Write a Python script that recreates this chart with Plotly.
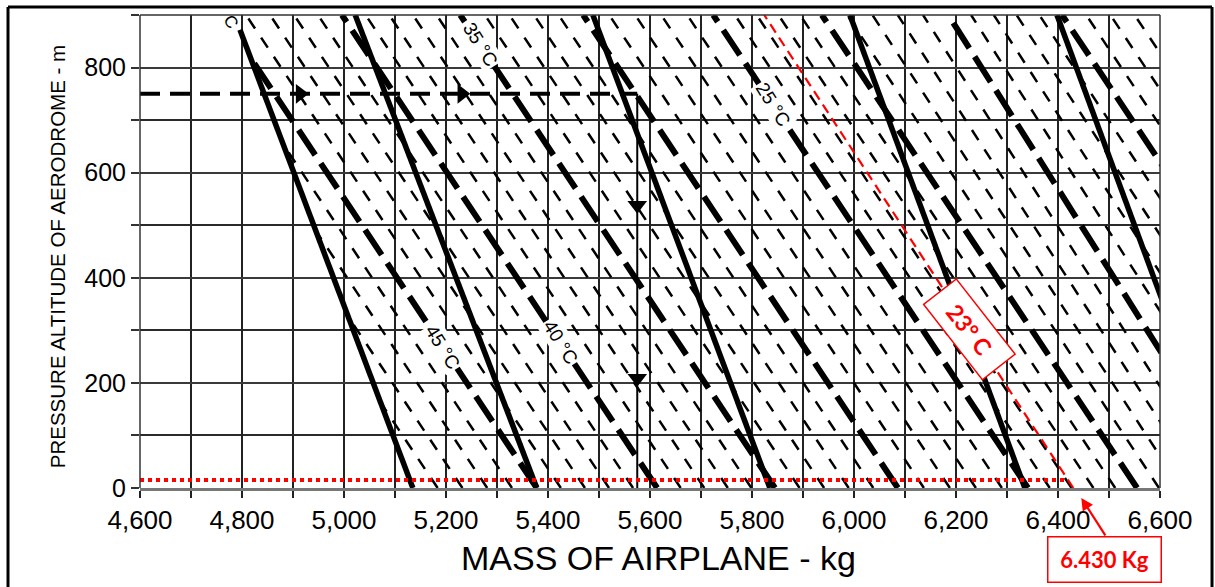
import numpy as np
import plotly.graph_objects as go

# ---------------- chart data ----------------
mass_tick_vals = [4600, 4800, 5000, 5200, 5400, 5600, 5800, 6000, 6200, 6400, 6600]
mass_tick_text = ["4,600", "4,800", "5,000", "5,200", "5,400", "5,600",
                  "5,800", "6,000", "6,200", "6,400", "6,600"]
alt_tick_vals = [0, 200, 400, 600, 800]
alt_tick_text = ["0", "200", "400", "600", "800"]

# outside-air-temperature lines (°C): mass at 0 m and at 900 m pressure altitude
temp_c = [50, 45, 40, 35, 30, 25, 20, 15, 10, 5]
temp_mass_0m = [5135, 5378, 5614, 5845, 6086, 6341, 6555, 6770, 7026, 7265]
temp_mass_900m = [4516, 4761, 4996, 5228, 5469, 5724, 5937, 6185, 6408, 6645]

# labelled temperature lines and the altitude where each label sits
label_temps = [45, 40, 35, 25]
label_alts = [268, 276, 843, 729]

# steep solid guide lines: upper end (mass, altitude) and sea-level mass
guide_top_mass = [4796, 5022, 5488, 5992, 6398]
guide_top_alt = [872, 900, 900, 900, 900]
guide_base_mass = [5135, 5378, 5835, 6335, 6740]

# worked example: aerodrome altitude line and the mass read-off line
example_alt = 750
example_mass = 5575
example_right_arrows = [4914, 5231]
example_down_arrows = [538, 209]

# result for 23 °C
result_temp = 23
result_mass = 6430
result_top_mass = 5824
result_alt = 15

ALT_TOP = 900
MASS_MIN, MASS_MAX = 4600, 6600

# ---------------- geometry helpers ----------------
bound_base = guide_base_mass[0]
bound_slope = (guide_top_mass[0] - guide_base_mass[0]) / guide_top_alt[0]


def clipped_segment(m0, m900):
    """Return the altitude span of a temperature line right of the first guide line."""
    slope = (m900 - m0) / ALT_TOP
    diff0 = m0 - bound_base
    if diff0 <= 0:
        return None
    rate = slope - bound_slope
    top = ALT_TOP if rate >= 0 else min(ALT_TOP, diff0 / -rate)
    return top


def add_line(xs, ys, m0, m900):
    top = clipped_segment(m0, m900)
    if top is None:
        return
    slope = (m900 - m0) / ALT_TOP
    xs += [m0, m0 + slope * top, None]
    ys += [0, top, None]


# 1 °C hatch lines between the 5 °C lines
hx, hy = [], []
for i in range(len(temp_c) - 1):
    a0, a9 = temp_mass_0m[i], temp_mass_900m[i]
    b0, b9 = temp_mass_0m[i + 1], temp_mass_900m[i + 1]
    for k in range(1, 5):
        f = k / 5
        add_line(hx, hy, a0 + (b0 - a0) * f, a9 + (b9 - a9) * f)

# 5 °C lines
tx, ty = [], []
for t, m0, m9 in zip(temp_c, temp_mass_0m, temp_mass_900m):
    add_line(tx, ty, m0, m9)

# solid guide lines
gx, gy = [], []
for mt, at, mb in zip(guide_top_mass, guide_top_alt, guide_base_mass):
    gx += [mb, mt, None]
    gy += [0, at, None]

fig = go.Figure()

fig.add_trace(go.Scatter(x=hx, y=hy, mode="lines", hoverinfo="skip",
                         line=dict(color="black", width=2.5, dash="12px,11px")))
fig.add_trace(go.Scatter(x=tx, y=ty, mode="lines", hoverinfo="skip",
                         line=dict(color="black", width=6, dash="30px,10px")))
fig.add_trace(go.Scatter(x=gx, y=gy, mode="lines", hoverinfo="skip",
                         line=dict(color="black", width=5.5)))

# worked example lines
fig.add_trace(go.Scatter(x=[MASS_MIN, example_mass], y=[example_alt, example_alt],
                         mode="lines", hoverinfo="skip",
                         line=dict(color="black", width=4, dash="20px,10px")))
fig.add_trace(go.Scatter(x=[example_mass, example_mass], y=[example_alt, 0],
                         mode="lines", hoverinfo="skip",
                         line=dict(color="black", width=2)))
fig.add_trace(go.Scatter(x=example_right_arrows, y=[example_alt] * len(example_right_arrows),
                         mode="markers", hoverinfo="skip",
                         marker=dict(symbol="triangle-right", size=17, color="black")))
fig.add_trace(go.Scatter(x=[example_mass] * len(example_down_arrows), y=example_down_arrows,
                         mode="markers", hoverinfo="skip",
                         marker=dict(symbol="triangle-down", size=17, color="black")))

# 23 °C line and the aerodrome level line
red_slope = (result_top_mass - result_mass) / ALT_TOP
fig.add_trace(go.Scatter(x=[result_mass, result_top_mass], y=[0, ALT_TOP],
                         mode="lines", hoverinfo="skip",
                         line=dict(color="#ff0000", width=2.2, dash="10px,6px")))
fig.add_trace(go.Scatter(x=[MASS_MIN, result_mass + red_slope * result_alt],
                         y=[result_alt, result_alt], mode="lines", hoverinfo="skip",
                         line=dict(color="#ff0000", width=4, dash="4px,4px")))

annotations = []
# temperature labels along their lines
for t, a in zip(label_temps, label_alts):
    i = temp_c.index(t)
    m = temp_mass_0m[i] + (temp_mass_900m[i] - temp_mass_0m[i]) * a / ALT_TOP
    annotations.append(dict(x=m, y=a, xref="x", yref="y", text=f"{t} °C",
                            showarrow=False, textangle=58, bgcolor="white", borderpad=1,
                            font=dict(family="Liberation Sans", size=19, color="black")))
# partial label at the top of the chart
annotations.append(dict(x=4778, y=888, xref="x", yref="y", text="C", showarrow=False,
                        textangle=60, font=dict(family="Liberation Sans", size=17, color="black")))

# 23 °C box on the red line
box_alt = 302
annotations.append(dict(x=result_mass + red_slope * box_alt, y=box_alt, xref="x", yref="y",
                        text=f"{result_temp}° C", showarrow=False, textangle=52,
                        bgcolor="white", bordercolor="#ff0000", borderwidth=1.5,
                        width=92, height=38, xanchor="center", yanchor="middle",
                        font=dict(family="Lato", size=23, color="#ff0000", weight="bold")))

# result mass box and arrow
annotations.append(dict(x=6492, y=-0.152, xref="x", yref="paper",
                        xanchor="center", yanchor="middle",
                        text=f"{result_mass:,}".replace(",", ".") + " Kg", showarrow=False,
                        bgcolor="white", bordercolor="#ff0000", borderwidth=1.5,
                        width=110, height=42,
                        font=dict(family="Lato", size=22, color="#ff0000", weight="bold")))
annotations.append(dict(x=result_mass, y=-0.021, xref="x", yref="paper", xshift=8,
                        text="", showarrow=True, ax=25, ay=39, arrowhead=2, arrowsize=1.1,
                        arrowwidth=2.2, arrowcolor="#ff0000", standoff=0))

# axis titles
annotations.append(dict(x=-0.0814, y=0.49, xref="paper", yref="paper",
                        xanchor="center", yanchor="middle",
                        text="PRESSURE ALTITUDE OF AERODROME - m", showarrow=False,
                        textangle=-90, font=dict(family="Liberation Sans", size=20.5, color="black")))
annotations.append(dict(x=0.508, y=-0.149, xref="paper", yref="paper",
                        xanchor="center", yanchor="middle",
                        text="MASS OF AIRPLANE - kg", showarrow=False,
                        font=dict(family="Liberation Sans", size=34, color="black")))

shapes = [
    # plot boundary lines
    dict(type="line", xref="paper", yref="paper", x0=0, x1=1, y0=1, y1=1,
         line=dict(color="#333", width=1.5)),
    dict(type="line", xref="paper", yref="paper", x0=1, x1=1, y0=0, y1=1,
         line=dict(color="#333", width=1.5)),
    dict(type="line", xref="paper", yref="paper", x0=0, x1=0, y0=0, y1=1,
         line=dict(color="#333", width=1.5)),
    # outer frame
    dict(type="line", xref="paper", yref="paper", x0=-0.1294, x1=-0.1294, y0=-0.25, y1=1.017,
         line=dict(color="black", width=3)),
    dict(type="line", xref="paper", yref="paper", x0=-0.1294, x1=1.051, y0=1.017, y1=1.017,
         line=dict(color="black", width=3)),
    dict(type="line", xref="paper", yref="paper", x0=1.051, x1=1.051, y0=-0.25, y1=1.017,
         line=dict(color="black", width=3)),
]

fig.update_layout(
    width=1215, height=587, autosize=False,
    margin=dict(l=140, r=55, t=15, b=99),
    paper_bgcolor="white", plot_bgcolor="white",
    showlegend=False,
    annotations=annotations, shapes=shapes,
    xaxis=dict(range=[MASS_MIN, MASS_MAX], tickvals=mass_tick_vals, ticktext=mass_tick_text,
               ticks="outside", ticklen=7, tickwidth=1.5, tickcolor="#222",
               ticklabelstandoff=0,
               showgrid=True, gridcolor="#222", gridwidth=1.5,
               minor=dict(dtick=100, showgrid=True, gridcolor="#222", gridwidth=1.5,
                          ticks="outside", ticklen=7, tickcolor="#222"),
               showline=True, linecolor="#777", linewidth=3, zeroline=False,
               tickfont=dict(family="Liberation Sans", size=26, color="black")),
    yaxis=dict(range=[0, ALT_TOP], tickvals=alt_tick_vals, ticktext=alt_tick_text,
               ticks="outside", ticklen=8, tickwidth=1.5, tickcolor="#333",
               showgrid=True, gridcolor="#3a3a3a", gridwidth=2.2,
               minor=dict(dtick=100, showgrid=True, gridcolor="#2a2a2a", gridwidth=1.5,
                          ticks="outside", ticklen=8, tickcolor="#333"),
               showline=False, zeroline=False,
               tickfont=dict(family="Liberation Sans", size=25, color="black")),
)

fig.write_html("out.html")
